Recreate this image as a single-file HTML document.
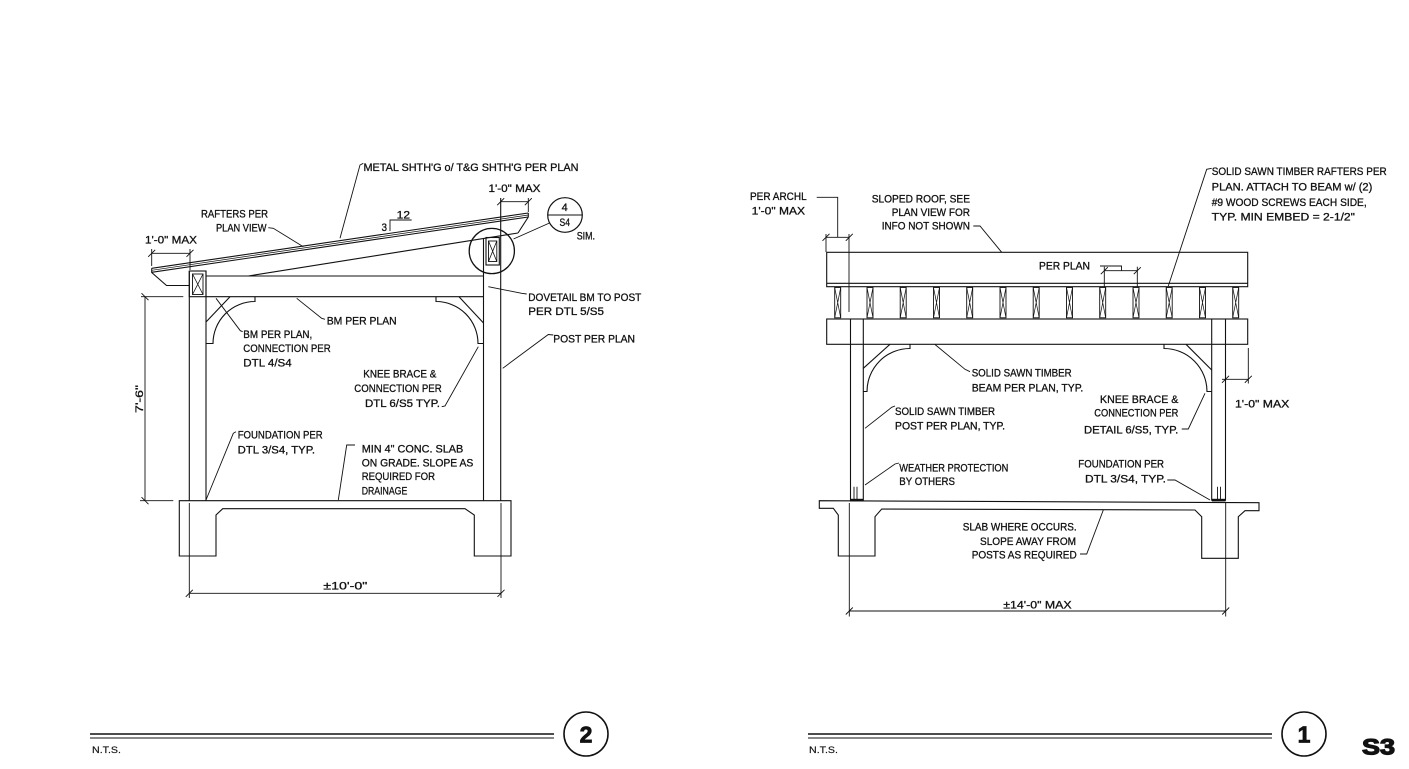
<!DOCTYPE html>
<html><head><meta charset="utf-8">
<style>
html,body{margin:0;padding:0;background:#fff;}
svg{display:block;}
text{font-family:"Liberation Sans",sans-serif;font-size:11px;fill:#111;stroke:#111;stroke-width:0.3;}
.b{font-weight:bold;stroke-width:0.8;}
</style></head><body>
<svg width="1409" height="769" viewBox="0 0 1409 769" xmlns="http://www.w3.org/2000/svg">
<rect x="0" y="0" width="1409" height="769" fill="#fff"/>
<g fill="none" stroke="#111" stroke-width="1.1">
<!-- ===== LEFT DETAIL (2) ===== -->
<line x1="151.7" y1="268.3" x2="528.3" y2="213"/>
<line x1="151.7" y1="270.3" x2="528.3" y2="215" stroke-width="0.7"/>
<line x1="151.7" y1="272.3" x2="528.3" y2="217"/>
<path d="M151.7,268.3 L151.7,272.5 L166.5,285.5 L189.3,285.5"/>
<path d="M528.3,213 L528.3,217 L518,233"/>
<line x1="248.3" y1="276" x2="518" y2="233"/>
<line x1="206" y1="276" x2="483.5" y2="276"/>
<line x1="206" y1="296.7" x2="483.5" y2="296.7"/>
<line x1="189.3" y1="271" x2="189.3" y2="500.7"/>
<line x1="206" y1="271" x2="206" y2="500.7"/>
<rect x="189.3" y="271" width="16.7" height="25.7"/>
<rect x="192.5" y="274" width="10.5" height="20.5" stroke-width="0.9"/>
<path d="M192.5,274 L203,294.5 M203,274 L192.5,294.5" stroke-width="0.8"/>
<line x1="483.5" y1="238.5" x2="483.5" y2="500.7"/>
<line x1="500.7" y1="198" x2="500.7" y2="500.7"/>
<rect x="486" y="237.5" width="13.3" height="27.5"/>
<rect x="488.5" y="241" width="8.3" height="20.5" stroke-width="0.9"/>
<path d="M488.5,241 L496.8,261.5 M496.8,241 L488.5,261.5" stroke-width="0.8"/>
<circle cx="491.8" cy="251" r="22.6" stroke-width="1.3"/>
<path d="M255,296.7 L255,301.5 A42,42 0 0 0 213,343.5 L206,343.5"/>
<line x1="230" y1="296.7" x2="206" y2="322"/>
<path d="M436,296.7 L436,301.5 A42,42 0 0 1 478,343.5 L483.5,343.5"/>
<line x1="459" y1="296.7" x2="483.5" y2="323"/>
<path d="M179.3,500.7 L511,500.7 L511,556 L474.3,556 L474.3,515 L465,508.7 L222.7,508.7 L216,515 L216,556 L179.3,556 Z"/>
<line x1="151.7" y1="253.3" x2="190" y2="253.3" stroke-width="0.9"/>
<line x1="151.7" y1="249" x2="151.7" y2="266" stroke-width="0.9"/>
<line x1="190" y1="249" x2="190" y2="270" stroke-width="0.9"/>
<path d="M148.2,256.8 L155.2,249.8 M186.5,256.8 L193.5,249.8" stroke-width="0.9"/>
<line x1="500.7" y1="201.7" x2="528.3" y2="201.7" stroke-width="0.9"/>
<line x1="528.3" y1="198" x2="528.3" y2="212" stroke-width="0.9"/>
<path d="M497.2,205.2 L504.2,198.2 M524.8,205.2 L531.8,198.2" stroke-width="0.9"/>
<path d="M390,231 L390,220 L411.7,220" stroke-width="0.9"/>
<circle cx="565" cy="215" r="17.3" stroke-width="1.2"/>
<line x1="547.7" y1="215" x2="582.3" y2="215"/>
<line x1="513.5" y1="239" x2="549.5" y2="223" stroke-width="0.9"/>
<line x1="145" y1="296.7" x2="145" y2="500.7" stroke-width="0.9"/>
<line x1="141" y1="296.7" x2="183.3" y2="296.7" stroke-width="0.9"/>
<line x1="140" y1="500.7" x2="173.3" y2="500.7" stroke-width="0.9"/>
<path d="M141.5,293.2 L148.5,300.2 M141.5,497.2 L148.5,504.2" stroke-width="0.9"/>
<line x1="189.3" y1="593.3" x2="501" y2="593.3" stroke-width="0.9"/>
<line x1="189.3" y1="503" x2="189.3" y2="598" stroke-width="0.9"/>
<line x1="501" y1="503" x2="501" y2="598" stroke-width="0.9"/>
<path d="M185.8,596.8 L192.8,589.8 M497.5,596.8 L504.5,589.8" stroke-width="0.9"/>
<g stroke-width="0.9">
<path d="M363.3,163.3 L360,165 L340,238.3"/>
<path d="M268.3,227.7 L273.3,228.3 L303.3,246.7"/>
<path d="M296.7,298.3 L321.7,318.3 L325,319.3"/>
<path d="M216,298.3 L240.3,330.7 L242.7,331.7"/>
<path d="M441.7,406.7 L445,406 L478.3,346.7"/>
<path d="M488.3,286.7 L521.7,293.3 L526.7,294"/>
<path d="M553.3,335 L548.3,334.5 L502.7,368.3"/>
<path d="M236,431.7 L233.3,433.3 L206,500"/>
<path d="M355,445 L346.7,445 L338.3,500"/>
</g>

<!-- ===== RIGHT DETAIL (1) ===== -->
<rect x="826.7" y="252.3" width="421" height="34.4"/>
<line x1="826.7" y1="283.3" x2="1247.7" y2="283.3"/>
<g stroke-width="0.9">
<rect x="834.7" y="287.5" width="6" height="30.3"/><path d="M834.7,287.5 L840.7,317.8 M840.7,287.5 L834.7,317.8" stroke-width="0.7"/>
<rect x="867" y="287.5" width="6" height="30.3"/><path d="M867,287.5 L873,317.8 M873,287.5 L867,317.8" stroke-width="0.7"/>
<rect x="900.2" y="287.5" width="6" height="30.3"/><path d="M900.2,287.5 L906.2,317.8 M906.2,287.5 L900.2,317.8" stroke-width="0.7"/>
<rect x="933.5" y="287.5" width="6" height="30.3"/><path d="M933.5,287.5 L939.5,317.8 M939.5,287.5 L933.5,317.8" stroke-width="0.7"/>
<rect x="966.7" y="287.5" width="6" height="30.3"/><path d="M966.7,287.5 L972.7,317.8 M972.7,287.5 L966.7,317.8" stroke-width="0.7"/>
<rect x="1000" y="287.5" width="6" height="30.3"/><path d="M1000,287.5 L1006,317.8 M1006,287.5 L1000,317.8" stroke-width="0.7"/>
<rect x="1033.2" y="287.5" width="6" height="30.3"/><path d="M1033.2,287.5 L1039.2,317.8 M1039.2,287.5 L1033.2,317.8" stroke-width="0.7"/>
<rect x="1066.5" y="287.5" width="6" height="30.3"/><path d="M1066.5,287.5 L1072.5,317.8 M1072.5,287.5 L1066.5,317.8" stroke-width="0.7"/>
<rect x="1099.7" y="287.5" width="6" height="30.3"/><path d="M1099.7,287.5 L1105.7,317.8 M1105.7,287.5 L1099.7,317.8" stroke-width="0.7"/>
<rect x="1133" y="287.5" width="6" height="30.3"/><path d="M1133,287.5 L1139,317.8 M1139,287.5 L1133,317.8" stroke-width="0.7"/>
<rect x="1166.2" y="287.5" width="6" height="30.3"/><path d="M1166.2,287.5 L1172.2,317.8 M1172.2,287.5 L1166.2,317.8" stroke-width="0.7"/>
<rect x="1199.5" y="287.5" width="6" height="30.3"/><path d="M1199.5,287.5 L1205.5,317.8 M1205.5,287.5 L1199.5,317.8" stroke-width="0.7"/>
<rect x="1232.7" y="287.5" width="6" height="30.3"/><path d="M1232.7,287.5 L1238.7,317.8 M1238.7,287.5 L1232.7,317.8" stroke-width="0.7"/>
</g>
<rect x="826.7" y="319" width="421" height="25.3"/>
<line x1="850.5" y1="319" x2="850.5" y2="500.7"/>
<line x1="863.3" y1="319" x2="863.3" y2="500.7"/>
<line x1="1211.7" y1="319" x2="1211.7" y2="500.7"/>
<line x1="1225.5" y1="319" x2="1225.5" y2="500.7"/>
<path d="M910,344.3 L910,348.5 A43,43 0 0 0 867,391.5 L863.3,391.5"/>
<line x1="890" y1="344.3" x2="863.3" y2="368.3"/>
<path d="M1164,344.3 L1164,348.5 A43,43 0 0 1 1207,391.5 L1211.7,391.5"/>
<line x1="1186" y1="344.3" x2="1211.7" y2="370"/>
<path d="M854,486.7 L854,500 M857,486.7 L857,500 M1217.5,486.7 L1217.5,500 M1220.5,486.7 L1220.5,500" stroke-width="0.9"/>
<path d="M819.3,500.7 L1259,502.7 L1259,510.7 L1245,510.7 L1238.3,516.7 L1238.3,558.3 L1201.7,558.3 L1201.7,516.7 L1195,510 L881.7,509 L875,516.7 L875,556 L838.3,556 L838.3,515 L833.3,508.3 L819.3,508.3 Z"/>
<g stroke-width="0.9">
<line x1="826" y1="237.3" x2="849.3" y2="237.3"/>
<line x1="826" y1="234" x2="826" y2="252"/>
<line x1="849" y1="234" x2="849" y2="312"/>
<path d="M822.5,240.8 L829.5,233.8 M845.8,240.8 L852.8,233.8"/>
<path d="M816.7,197.3 L837.7,197.3 L837.7,237.3"/>
<line x1="1104.3" y1="266.7" x2="1104.3" y2="287"/>
<line x1="1137.3" y1="266.7" x2="1137.3" y2="287"/>
<line x1="1104.3" y1="270.7" x2="1137.3" y2="270.7"/>
<path d="M1100.8,274.2 L1107.8,267.2 M1133.8,274.2 L1140.8,267.2"/>
<path d="M1100,266 L1121.5,266 L1121.5,270.7"/>
<line x1="1222" y1="379.3" x2="1248.3" y2="379.3"/>
<line x1="1248.3" y1="348" x2="1248.3" y2="383.5"/>
<path d="M1222,382.8 L1229,375.8 M1244.8,382.8 L1251.8,375.8"/>
<line x1="849.3" y1="503" x2="849.3" y2="616.5"/>
<line x1="1225.7" y1="503" x2="1225.7" y2="616.5"/>
<line x1="849.3" y1="611" x2="1225.7" y2="611"/>
<path d="M845.8,614.5 L852.8,607.5 M1222.2,614.5 L1229.2,607.5"/>
<path d="M973.3,226 L980,226 L1001.7,252.3"/>
<path d="M1211.7,168.3 L1206.7,169.3 L1168.3,286"/>
<path d="M935,344.5 L965,369.3 L970,371.7"/>
<path d="M895,406 L891.7,407.3 L865,428.3"/>
<path d="M899,463 L895,464 L865,485"/>
<path d="M1080,554 L1086.7,554 L1103.3,510"/>
<path d="M1181.7,429 L1188.3,429 L1205,393.3"/>
<path d="M1167.3,480 L1175,480 L1210,500"/>
</g>
<line x1="90" y1="734" x2="554" y2="734" stroke-width="1.6"/>
<line x1="90" y1="738" x2="554" y2="738" stroke-width="1"/>
<circle cx="586" cy="734" r="22" stroke-width="1.6"/>
<line x1="808" y1="734" x2="1272" y2="734" stroke-width="1.6"/>
<line x1="808" y1="738" x2="1272" y2="738" stroke-width="1"/>
<circle cx="1304" cy="734" r="22" stroke-width="1.6"/>
</g>
<rect x="850" y="498.8" width="13.3" height="2.6" fill="#111"/>
<rect x="1212" y="498.8" width="13.5" height="2.6" fill="#111"/>

<g>
<text x="363.5" y="171" textLength="215" lengthAdjust="spacingAndGlyphs">METAL SHTH'G o/ T&amp;G SHTH'G PER PLAN</text>
<text x="201" y="217.5" textLength="67" lengthAdjust="spacingAndGlyphs">RAFTERS PER</text>
<text x="216" y="231.5" textLength="50.5" lengthAdjust="spacingAndGlyphs">PLAN VIEW</text>
<text x="145" y="243.5" textLength="52" lengthAdjust="spacingAndGlyphs">1'-0&quot; MAX</text>
<text x="488.5" y="192" textLength="52" lengthAdjust="spacingAndGlyphs">1'-0&quot; MAX</text>
<text x="396.7" y="218.3" textLength="13.3" lengthAdjust="spacingAndGlyphs">12</text>
<text x="381.5" y="231" textLength="5.5" lengthAdjust="spacingAndGlyphs">3</text>
<text x="564.7" y="211" text-anchor="middle">4</text>
<text x="559.5" y="226" textLength="10.5" lengthAdjust="spacingAndGlyphs">S4</text>
<text x="576.7" y="239.3" textLength="18.3" lengthAdjust="spacingAndGlyphs">SIM.</text>
<text x="528.3" y="301" textLength="113" lengthAdjust="spacingAndGlyphs">DOVETAIL BM TO POST</text>
<text x="528.3" y="315" textLength="75.7" lengthAdjust="spacingAndGlyphs">PER DTL 5/S5</text>
<text x="553.3" y="342.5" textLength="81.7" lengthAdjust="spacingAndGlyphs">POST PER PLAN</text>
<text x="326.7" y="324.5" textLength="70" lengthAdjust="spacingAndGlyphs">BM PER PLAN</text>
<text x="243.3" y="338" textLength="69" lengthAdjust="spacingAndGlyphs">BM PER PLAN,</text>
<text x="243.3" y="352" textLength="87.4" lengthAdjust="spacingAndGlyphs">CONNECTION PER</text>
<text x="243.3" y="366.7" textLength="48.4" lengthAdjust="spacingAndGlyphs">DTL 4/S4</text>
<text x="363.3" y="377.3" textLength="73" lengthAdjust="spacingAndGlyphs">KNEE BRACE &amp;</text>
<text x="354.3" y="392" textLength="87.4" lengthAdjust="spacingAndGlyphs">CONNECTION PER</text>
<text x="365" y="407" textLength="75" lengthAdjust="spacingAndGlyphs">DTL 6/S5 TYP.</text>
<text x="143" y="399" text-anchor="middle" transform="rotate(-90 143 399)" textLength="28" lengthAdjust="spacingAndGlyphs">7'-6&quot;</text>
<text x="237.7" y="438.3" textLength="85" lengthAdjust="spacingAndGlyphs">FOUNDATION PER</text>
<text x="237.7" y="453.3" textLength="77.3" lengthAdjust="spacingAndGlyphs">DTL 3/S4, TYP.</text>
<text x="361.7" y="452.3" textLength="101.6" lengthAdjust="spacingAndGlyphs">MIN 4&quot; CONC. SLAB</text>
<text x="361.7" y="466.7" textLength="111.6" lengthAdjust="spacingAndGlyphs">ON GRADE. SLOPE AS</text>
<text x="361.7" y="480" textLength="73.3" lengthAdjust="spacingAndGlyphs">REQUIRED FOR</text>
<text x="361.7" y="494.3" textLength="45.6" lengthAdjust="spacingAndGlyphs">DRAINAGE</text>
<text x="323.3" y="589.3" textLength="44" lengthAdjust="spacingAndGlyphs">±10'-0&quot;</text>

<text x="750" y="200" textLength="56.7" lengthAdjust="spacingAndGlyphs">PER ARCHL</text>
<text x="751.7" y="214.3" textLength="53.3" lengthAdjust="spacingAndGlyphs">1'-0&quot; MAX</text>
<text x="871.7" y="202.7" textLength="98.3" lengthAdjust="spacingAndGlyphs">SLOPED ROOF, SEE</text>
<text x="891.7" y="216" textLength="78.3" lengthAdjust="spacingAndGlyphs">PLAN VIEW FOR</text>
<text x="881.7" y="229.7" textLength="88.3" lengthAdjust="spacingAndGlyphs">INFO NOT SHOWN</text>
<text x="1039" y="269.3" textLength="51" lengthAdjust="spacingAndGlyphs">PER PLAN</text>
<text x="1211.7" y="175" textLength="175" lengthAdjust="spacingAndGlyphs">SOLID SAWN TIMBER RAFTERS PER</text>
<text x="1211.7" y="190.7" textLength="160.6" lengthAdjust="spacingAndGlyphs">PLAN. ATTACH TO BEAM w/ (2)</text>
<text x="1211.7" y="206" textLength="155" lengthAdjust="spacingAndGlyphs">#9 WOOD SCREWS EACH SIDE,</text>
<text x="1211.7" y="220.7" textLength="143.3" lengthAdjust="spacingAndGlyphs">TYP. MIN EMBED = 2-1/2&quot;</text>
<text x="971.7" y="376.7" textLength="100" lengthAdjust="spacingAndGlyphs">SOLID SAWN TIMBER</text>
<text x="971.7" y="391.7" textLength="111.6" lengthAdjust="spacingAndGlyphs">BEAM PER PLAN, TYP.</text>
<text x="895" y="415" textLength="100" lengthAdjust="spacingAndGlyphs">SOLID SAWN TIMBER</text>
<text x="895" y="429.3" textLength="110" lengthAdjust="spacingAndGlyphs">POST PER PLAN, TYP.</text>
<text x="899.3" y="471.7" textLength="109" lengthAdjust="spacingAndGlyphs">WEATHER PROTECTION</text>
<text x="899.3" y="485" textLength="55.7" lengthAdjust="spacingAndGlyphs">BY OTHERS</text>
<text x="1100" y="403" textLength="78.3" lengthAdjust="spacingAndGlyphs">KNEE BRACE &amp;</text>
<text x="1094.3" y="416.7" textLength="84" lengthAdjust="spacingAndGlyphs">CONNECTION PER</text>
<text x="1084" y="433.3" textLength="94.3" lengthAdjust="spacingAndGlyphs">DETAIL 6/S5, TYP.</text>
<text x="1078.3" y="467.3" textLength="85.7" lengthAdjust="spacingAndGlyphs">FOUNDATION PER</text>
<text x="1085" y="482.3" textLength="81" lengthAdjust="spacingAndGlyphs">DTL 3/S4, TYP.</text>
<text x="962.7" y="530.3" textLength="114" lengthAdjust="spacingAndGlyphs">SLAB WHERE OCCURS.</text>
<text x="980" y="545" textLength="96" lengthAdjust="spacingAndGlyphs">SLOPE AWAY FROM</text>
<text x="971.7" y="558.3" textLength="105" lengthAdjust="spacingAndGlyphs">POSTS AS REQUIRED</text>
<text x="1003.3" y="608.3" textLength="68.3" lengthAdjust="spacingAndGlyphs">±14'-0&quot; MAX</text>
<text x="1235" y="407.3" textLength="54.3" lengthAdjust="spacingAndGlyphs">1'-0&quot; MAX</text>

<text x="92" y="753" style="font-size:9px;stroke-width:0.15" textLength="29" lengthAdjust="spacingAndGlyphs">N.T.S.</text>
<text x="809" y="753" style="font-size:9px;stroke-width:0.15" textLength="29" lengthAdjust="spacingAndGlyphs">N.T.S.</text>
<text x="586" y="742.3" class="b" style="font-size:23px" text-anchor="middle">2</text>
<text x="1304" y="742.3" class="b" style="font-size:23px" text-anchor="middle">1</text>
<text x="1362" y="754.5" class="b" style="font-size:22px;stroke-width:1.2" textLength="33" lengthAdjust="spacingAndGlyphs">S3</text>
</g>
</svg>
</body></html>
